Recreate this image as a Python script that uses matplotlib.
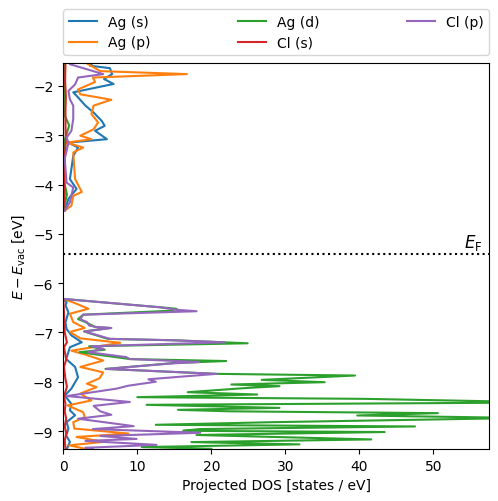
import numpy as np
import matplotlib
matplotlib.use("Agg")
import matplotlib.pyplot as plt

E_F = -5.41

# ---- conduction band knots (energy [eV], DOS) ----
cb_ag_s_E = [-4.53, -4.29, -4.09, -3.89, -3.42, -3.25, -3.15, -3.08, -2.91, -2.81, -2.71, -2.54, -2.40, -2.20, -2.13, -1.96, -1.86, -1.76, -1.64, -1.59, -1.53]
cb_ag_s_D = [0.2, 0.7, 1.8, 0.9, 1.35, 2.0, 0.7, 5.9, 4.3, 5.6, 5.2, 4.1, 3.0, 1.8, 1.35, 6.8, 5.5, 6.6, 6.3, 3.6, 4.0]

cb_ag_p_E = [-4.53, -4.43, -4.23, -4.15, -3.89, -3.35, -3.25, -3.15, -3.08, -3.01, -2.88, -2.74, -2.57, -2.40, -2.28, -2.17, -2.07, -1.92, -1.83, -1.76, -1.70, -1.56, -1.53]
cb_ag_p_D = [0.2, 1.1, 1.35, 2.5, 1.6, 1.35, 2.7, 0.5, 3.8, 2.3, 4.1, 4.7, 3.8, 4.1, 6.5, 2.3, 2.0, 4.3, 4.0, 16.7, 5.0, 3.4, 3.0]

cb_ag_d_E = [-4.53, -4.20, -4.00, -3.50, -3.10, -2.80, -2.60, -2.00, -1.53]
cb_ag_d_D = [0.0, 0.5, 0.2, 0.1, 0.2, 0.8, 0.2, 0.1, 0.2]

cb_cl_s_E = [-4.53, -4.20, -3.90, -3.50, -3.10, -2.80, -2.50, -2.20, -1.90, -1.53]
cb_cl_s_D = [0.0, 0.2, 0.15, 0.2, 0.35, 0.3, 0.3, 0.35, 0.25, 0.3]

cb_cl_p_E = [-4.53, -4.36, -4.06, -3.96, -3.48, -3.15, -3.05, -2.91, -2.67, -2.40, -2.27, -2.10, -1.97, -1.83, -1.76, -1.56, -1.53]
cb_cl_p_D = [0.2, 0.9, 1.35, 0.45, 0.2, 0.7, 0.45, 1.1, 1.35, 1.35, 0.9, 0.7, 1.6, 2.0, 5.4, 0.9, 1.0]

# ---- valence band knots (energy [eV], DOS) ----
vb_ag_s_E = [-9.36, -9.22, -9.09, -8.95, -8.82, -8.68, -8.58, -8.45, -8.28, -8.14, -8.01, -7.91, -7.70, -7.54, -7.30, -7.20, -7.06, -6.93, -6.80, -6.59, -6.45, -6.39, -6.32]
vb_ag_s_D = [0.5, 0.9, 0.4, 0.7, 0.45, 1.6, 0.9, 1.1, 0.2, 1.1, 1.6, 2.0, 1.6, 0.4, 0.9, 2.5, 1.1, 0.45, 0.3, 0.7, 0.3, 0.45, 0.0]

vb_ag_p_E = [-9.36, -9.29, -9.22, -9.12, -9.05, -8.95, -8.82, -8.72, -8.62, -8.48, -8.38, -8.24, -8.11, -8.04, -7.93, -7.81, -7.70, -7.57, -7.45, -7.37, -7.21, -7.12, -6.99, -6.91, -6.79, -6.62, -6.52, -6.40, -6.32]
vb_ag_p_D = [3.0, 0.8, 5.4, 1.8, 8.8, 1.5, 1.35, 2.9, 2.7, 0.6, 3.8, 2.3, 4.5, 3.2, 4.9, 5.4, 2.3, 5.4, 3.0, 1.1, 7.7, 2.3, 0.9, 2.9, 1.35, 0.9, 3.4, 1.5, 0.0]

vb_ag_d_E = [-9.36, -9.325, -9.27, -9.224, -9.17, -9.08, -9.02, -8.995, -8.96, -8.907, -8.873, -8.82, -8.735, -8.684, -8.637, -8.60, -8.57, -8.53, -8.468, -8.42, -8.347, -8.313, -8.259, -8.212, -8.124, -8.09, -8.056, -8.009, -7.962, -7.874, -7.84, -7.74, -7.62, -7.58, -7.54, -7.40, -7.35, -7.28, -7.22, -7.16, -7.13, -6.98, -6.91, -6.89, -6.79, -6.73, -6.64, -6.56, -6.52, -6.49, -6.32]
vb_ag_d_D = [20.0, 10.6, 31.9, 17.3, 41.6, 18.0, 43.4, 16.2, 18.4, 47.5, 12.5, 28.3, 62.0, 39.7, 50.6, 22.5, 15.5, 29.2, 11.25, 66.0, 40.7, 10.0, 26.2, 16.8, 25.0, 29.2, 22.7, 35.3, 26.8, 39.4, 20.7, 5.7, 15.0, 22.0, 9.0, 2.2, 5.6, 3.5, 24.9, 15.0, 6.0, 2.8, 6.3, 4.3, 3.0, 2.0, 2.7, 14.5, 15.3, 13.1, 0.0]

vb_cl_s_E = [-9.36, -9.20, -9.05, -8.90, -8.75, -8.60, -8.45, -8.30, -8.10, -7.95, -7.70, -7.55, -7.30, -7.20, -7.00, -6.60, -6.32]
vb_cl_s_D = [0.3, 0.2, 0.4, 0.2, 0.4, 0.2, 0.3, 0.1, 0.5, 0.3, 0.1, 0.4, 0.1, 0.5, 0.2, 0.1, 0.0]

vb_cl_p_E = [-9.36, -9.34, -9.28, -9.20, -9.16, -9.10, -9.035, -8.96, -8.90, -8.75, -8.67, -8.60, -8.49, -8.41, -8.29, -8.14, -8.08, -8.00, -7.95, -7.84, -7.74, -7.63, -7.60, -7.54, -7.50, -7.40, -7.33, -7.28, -7.20, -7.16, -7.13, -6.98, -6.91, -6.89, -6.86, -6.79, -6.73, -6.64, -6.57, -6.54, -6.49, -6.32]
vb_cl_p_D = [4.0, 3.0, 12.6, 3.0, 9.9, 5.0, 18.5, 4.0, 9.5, 2.0, 6.5, 5.0, 4.1, 9.0, 0.5, 7.2, 8.8, 12.5, 11.5, 20.7, 5.9, 14.5, 18.4, 9.0, 8.5, 3.4, 5.4, 3.8, 21.8, 15.3, 6.3, 2.9, 6.5, 4.5, 3.5, 3.2, 2.3, 2.7, 18.0, 15.3, 13.1, 0.0]

labels = ["Ag (s)", "Ag (p)", "Ag (d)", "Cl (s)", "Cl (p)"]
colors = ["#1f77b4", "#ff7f0e", "#2ca02c", "#d62728", "#9467bd"]

series = [
    (vb_ag_s_E, vb_ag_s_D, cb_ag_s_E, cb_ag_s_D),
    (vb_ag_p_E, vb_ag_p_D, cb_ag_p_E, cb_ag_p_D),
    (vb_ag_d_E, vb_ag_d_D, cb_ag_d_E, cb_ag_d_D),
    (vb_cl_s_E, vb_cl_s_D, cb_cl_s_E, cb_cl_s_D),
    (vb_cl_p_E, vb_cl_p_D, cb_cl_p_E, cb_cl_p_D),
]

fig = plt.figure(figsize=(4.98, 5.02), dpi=100)
ax = fig.add_axes([0.127, 0.104, 0.855, 0.769])

for (vE, vD, cE, cD), lab, col in zip(series, labels, colors):
    E = list(vE) + [np.nan] + list(cE)
    D = list(vD) + [np.nan] + list(cD)
    ax.plot(D, E, color=col, label=lab, lw=1.5)

ax.axhline(E_F, color="k", ls=":", lw=1.5)
ax.text(56.6, E_F + 0.04, r"$E_\mathrm{F}$", ha="right", va="bottom", fontsize=12)

ax.set_xlim(0, 57.5)
ax.set_ylim(-9.36, -1.53)
ax.set_xticks([0, 10, 20, 30, 40, 50])
ax.set_yticks([-9, -8, -7, -6, -5, -4, -3, -2])
ax.set_xlabel("Projected DOS [states / eV]")
ax.set_ylabel(r"$E - E_\mathrm{vac}$ [eV]")

ax.legend(bbox_to_anchor=(0., 1.02, 1., 0.102), loc="lower left", ncol=3,
          mode="expand", borderaxespad=0.)

fig.savefig("out.png", dpi=100)
